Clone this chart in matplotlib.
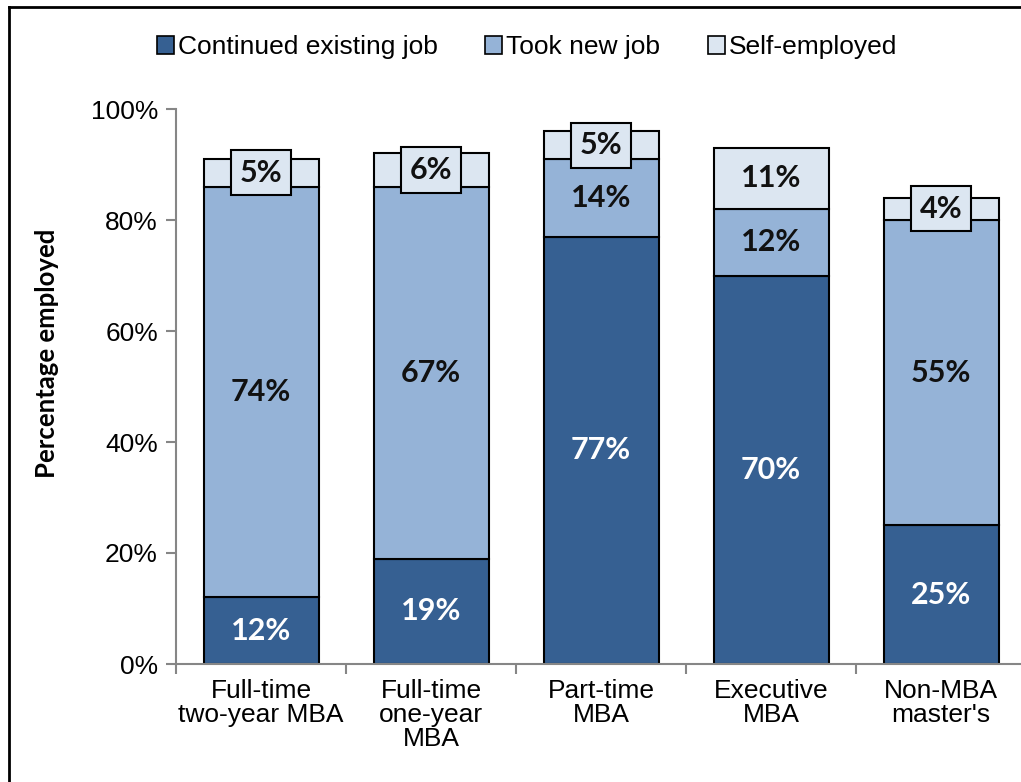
import matplotlib
matplotlib.use("Agg")
import matplotlib.pyplot as plt
from matplotlib.lines import Line2D
import numpy as np

categories = ["Full-time\ntwo-year MBA", "Full-time\none-year\nMBA", "Part-time\nMBA", "Executive\nMBA", "Non-MBA\nmaster's"]
continued = [12, 19, 77, 70, 25]
took_new = [74, 67, 14, 12, 55]
self_emp = [5, 6, 5, 11, 4]
series_names = ["Continued existing job", "Took new job", "Self-employed"]
colors = ["#366092", "#95B3D7", "#DCE6F1"]
text_colors = ["white", "#111111", "#111111"]
yticks = [0, 20, 40, 60, 80, 100]

fig = plt.figure(figsize=(10.21, 7.82), dpi=100)
ax = fig.add_axes([176/1021, (782-664)/782, 850/1021, (664-109)/782])

x = np.arange(len(categories))
width = 115/170
bottom = np.zeros(len(categories))
label_font = dict(family=["Lato", "DejaVu Sans"], weight="bold", style="normal", size=22)
for si, (vals, col) in enumerate(zip([continued, took_new, self_emp], colors)):
    vals = np.array(vals, dtype=float)
    ax.bar(x, vals, width, bottom=bottom, color=col, edgecolor="black", linewidth=1.5,
           label=series_names[si], zorder=2)
    for xi, v, b in zip(x, vals, bottom):
        yc = b + v / 2
        if v < 8:
            ax.text(xi, yc, f"{int(v)}%", ha="center", va="center", color=text_colors[si],
                    fontdict=label_font, zorder=5,
                    bbox=dict(boxstyle="square,pad=0.28", facecolor=col, edgecolor="black", linewidth=1.5))
        else:
            ax.text(xi, yc, f"{int(v)}%", ha="center", va="center", color=text_colors[si],
                    fontdict=label_font, zorder=5)
    bottom = bottom + vals

tick_fs = 19
ax.set_xlim(-0.5, len(categories) - 0.5)
ax.set_ylim(0, 100)
ax.set_yticks(yticks)
ax.set_yticklabels([f"{t}%" for t in yticks], family="Liberation Sans", fontsize=tick_fs)
ax.set_xticks(x)
ax.set_xticklabels(categories, family="Liberation Sans", fontsize=tick_fs, linespacing=1.0)
ax.set_xticks(np.arange(len(categories) + 1) - 0.5, minor=True)
ax.tick_params(axis="x", which="major", length=0, pad=11)
ax.tick_params(axis="x", which="minor", length=7, color="#868686", width=1.5, direction="out")
ax.tick_params(axis="y", which="major", length=7, color="#868686", width=1.5, direction="out", pad=6)

for s in ["top", "right"]:
    ax.spines[s].set_visible(False)
for s in ["left", "bottom"]:
    ax.spines[s].set_color("#868686")
    ax.spines[s].set_linewidth(1.5)

ax.set_ylabel("Percentage employed", family=["Lato", "DejaVu Sans"], weight="bold", style="normal",
              fontsize=18.5, va="center", ha="center")
ax.yaxis.set_label_coords((47 - 176) / 850, (664 - 353) / 555)

handles = [plt.Rectangle((0, 0), 1, 1, facecolor=c, edgecolor="black", linewidth=1.2) for c in colors]
fig.legend(handles, series_names, loc="center", bbox_to_anchor=(527/1021, (782-47)/782), ncol=3,
           frameon=False, prop=dict(family="Liberation Sans", size=tick_fs),
           handlelength=0.65, handleheight=0.65, handletextpad=0.15, columnspacing=1.8)

# figure border (top and left visible in cropped image)
fig.add_artist(Line2D([9/1021, 1.0], [1 - 7/782, 1 - 7/782], color="black", linewidth=2, transform=fig.transFigure))
fig.add_artist(Line2D([9/1021, 9/1021], [1 - 7/782, 0], color="black", linewidth=2, transform=fig.transFigure))

fig.savefig("out.png", dpi=100)
